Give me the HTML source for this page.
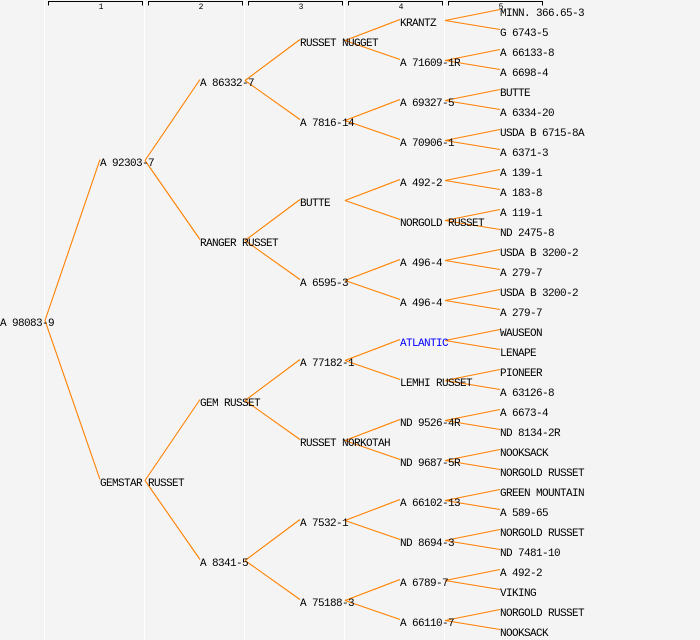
<!DOCTYPE html>
<html><head><meta charset="utf-8"><style>
html,body{margin:0;padding:0;background:#f4f4f4;}
svg{display:block;}
text{font-family:"Liberation Mono","DejaVu Sans Mono",monospace;font-size:11px;letter-spacing:-0.6px;fill:#000;}
</style></head><body>
<svg id="s" width="700" height="640" xmlns="http://www.w3.org/2000/svg">
<rect width="700" height="640" fill="#f4f4f4"/>
</svg>
<script>
var leaves=["MINN. 366.65-3","G 6743-5","A 66133-8","A 6698-4","BUTTE","A 6334-20","USDA B 6715-8A","A 6371-3","A 139-1","A 183-8","A 119-1","ND 2475-8","USDA B 3200-2","A 279-7","USDA B 3200-2","A 279-7","WAUSEON","LENAPE","PIONEER","A 63126-8","A 6673-4","ND 8134-2R","NOOKSACK","NORGOLD RUSSET","GREEN MOUNTAIN","A 589-65","NORGOLD RUSSET","ND 7481-10","A 492-2","VIKING","NORGOLD RUSSET","NOOKSACK"];
var l4=["KRANTZ","A 71609-1R","A 69327-5","A 70906-1","A 492-2","NORGOLD RUSSET","A 496-4","A 496-4","ATLANTIC","LEMHI RUSSET","ND 9526-4R","ND 9687-5R","A 66102-13","ND 8694-3","A 6789-7","A 66110-7"];
var l3=["RUSSET NUGGET","A 7816-14","BUTTE","A 6595-3","A 77182-1","RUSSET NORKOTAH","A 7532-1","A 75188-3"];
var l2=["A 86332-7","RANGER RUSSET","GEM RUSSET","A 8341-5"];
var l1=["A 92303-7","GEMSTAR RUSSET"];
var l0=["A 98083-9"];
var levels=[l0,l1,l2,l3,l4,leaves];
var s=document.getElementById('s'),NS="http://www.w3.org/2000/svg";
function el(t,a,txt){var e=document.createElementNS(NS,t);for(var k in a)e.setAttribute(k,a[k]);if(txt)e.textContent=txt;s.appendChild(e);return e;}
for(var k=0;k<5;k++){el('line',{x1:44.5+100*k,y1:0,x2:44.5+100*k,y2:640,stroke:'#ffffff','stroke-width':1});}
for(var k=0;k<5;k++){var a=48.5+100*k,b=142.5+100*k;
el('path',{d:'M'+a+' 5.5V1.5H'+b+'V5.5',fill:'none',stroke:'#000','stroke-width':1});
el('text',{x:101+100*k,y:9,'text-anchor':'middle',style:'font-size:8px;letter-spacing:0'},String(k+1));}
function rowY(L,i){var span=Math.pow(2,5-L);return 12+20*(i*span+(span-1)/2);}
for(var L=0;L<5;L++){for(var i=0;i<levels[L].length;i++){var py=rowY(L,i);
for(var c=0;c<2;c++){var ci=2*i+c,cy=rowY(L+1,ci);
el('line',{x1:45+100*L,y1:py-1.5,x2:100*(L+1),y2:cy-2.5,stroke:'#ff8000','stroke-width':1.1});}}}
for(var L=0;L<6;L++){for(var i=0;i<levels[L].length;i++){var y=rowY(L,i);var t=levels[L][i];
var e=el('text',{x:100*L,y:y+4},t);if(L==4&&t=="ATLANTIC")e.setAttribute('style','fill:#0000ff');}}
</script>
</body></html>
